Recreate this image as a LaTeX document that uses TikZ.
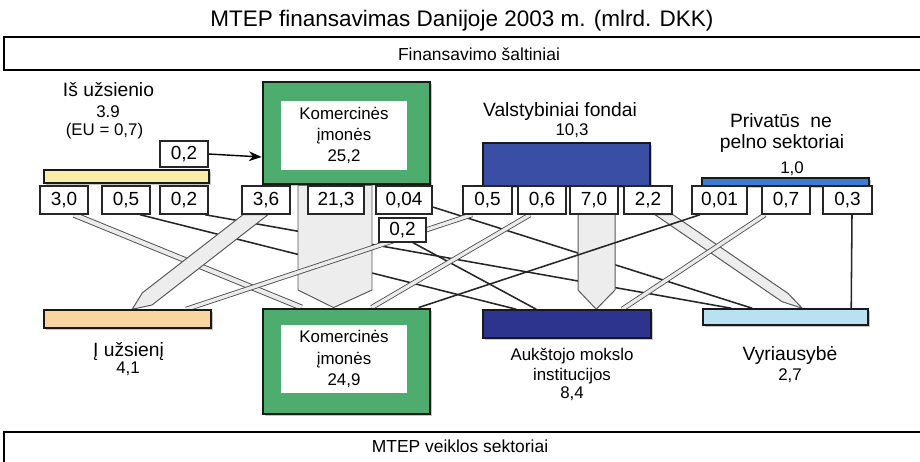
\documentclass[tikz,border=0pt]{standalone}
\usepackage{fontspec}
\setmainfont{Liberation Sans}
\usetikzlibrary{calc,arrows.meta,shadows,backgrounds}

\definecolor{kgreen}{RGB}{78,172,110}
\definecolor{uzyellow}{RGB}{248,238,168}
\definecolor{uzorange}{RGB}{249,213,160}
\definecolor{valblue}{RGB}{58,78,165}
\definecolor{privblue}{RGB}{62,124,208}
\definecolor{amoblue}{RGB}{44,52,142}
\definecolor{vyrblue}{RGB}{186,225,242}

\tikzset{
  numbox/.style={draw=black!85, line width=1pt, fill=white, minimum height=0.7cm, inner sep=0pt,
    font=\fontsize{13.5}{15}\selectfont,
    drop shadow={shadow xshift=0.8pt, shadow yshift=-0.8pt, fill=black!40}},
  secbar/.style={draw=black!90, line width=1.1pt, inner sep=0pt,
    drop shadow={shadow xshift=1.2pt, shadow yshift=-1.2pt, fill=black!45}},
  kombox/.style={draw=black!90, line width=2pt, fill=kgreen, inner sep=0pt, minimum width=4.175cm,
    drop shadow={shadow xshift=1.2pt, shadow yshift=-1.2pt, fill=black!45}},
  inbox/.style={fill=white, inner sep=0pt, minimum width=3.15cm, align=center,
    font=\fontsize{12}{15}\selectfont},
  lbl/.style={font=\fontsize{13.7}{16}\selectfont, anchor=base},
  numtxt/.style={font=\fontsize{12}{14}\selectfont, anchor=base},
  framebox/.style={draw, line width=1.2pt, inner sep=0pt,
    drop shadow={shadow xshift=0pt, shadow yshift=-1pt, fill=black!40}},
  flow/.style={draw=black!85, line width=1.1pt},
  dbl/.style={draw=black!70, line width=0.6pt, double=black!8, double distance=2.4pt},
  band/.style={draw=black!65, line width=0.7pt, fill=black!7, line join=round},
}

\begin{document}
\begin{tikzpicture}[x=0.025cm, y=-0.025cm]
\useasboundingbox (0,0) rectangle (920,461);

% headings
\node[font=\fontsize{16}{18}\selectfont, anchor=base] (title) at (462,26) {MTEP finansavimas Danijoje 2003 m. (mlrd. DKK)};
\node[framebox, fill=white, minimum width=23cm, minimum height=0.825cm] (srcbox) at (464,53.5) {};
\node[font=\fontsize{12.4}{14}\selectfont, anchor=base] (srclbl) at (479,60) {Finansavimo šaltiniai};
\node[framebox, fill=white, minimum width=23cm, minimum height=0.95cm] (secbox) at (464,451) {};
\node[font=\fontsize{12.4}{14}\selectfont, anchor=base] (seclbl) at (460,452) {MTEP veiklos sektoriai};

% sources
\node[lbl] (uzl) at (108.5,96) {Iš užsienio};
\node[numtxt] (uzv) at (108,117) {3.9};
\node[numtxt] (uzeu) at (104.5,135) {(EU = 0,7)};
\node[secbar, fill=uzyellow, minimum width=4.125cm, minimum height=0.325cm] (uzbar) at (126.5,176.5) {};
\node[kombox, minimum height=2.55cm] (kom1) at (346.5,133) {};
\node[inbox, minimum height=1.725cm] (kom1t) at (344,135.5) {Komercinės\\įmonės\\25,2};
\node[lbl] (vall) at (560,116) {Valstybiniai fondai};
\node[numtxt] (valv) at (572,135) {10,3};
\node[secbar, fill=valblue, minimum width=4.175cm, minimum height=1.075cm] (valst) at (566.5,164.5) {};
\node[lbl] (privl1) at (781,127) {Privatūs~ ne};
\node[lbl] (privl2) at (782,148) {pelno sektoriai};
\node[numtxt] (privv) at (792,173) {1,0};
\node[secbar, fill=privblue, minimum width=4.175cm, minimum height=0.2cm] (priv) at (785.5,182) {};

% sectors
\node[secbar, fill=uzorange, minimum width=4.175cm, minimum height=0.45cm] (uzs) at (127.5,319) {};
\node[lbl] (uzsl) at (128.5,356) {Į užsienį};
\node[numtxt] (uzsv) at (128,373) {4,1};
\node[kombox, minimum height=2.625cm] (kom2) at (346.5,361.5) {};
\node[inbox, minimum height=1.7cm] (kom2t) at (344,359) {Komercinės\\įmonės\\24,9};
\node[secbar, fill=amoblue, minimum width=4.2cm, minimum height=0.7cm] (amo) at (567,324) {};
\node[numtxt] (amol1) at (572,360) {Aukštojo mokslo};
\node[numtxt] (amol2) at (572,380) {institucijos};
\node[numtxt] (amov) at (572,398) {8,4};
\node[secbar, fill=vyrblue, minimum width=4.125cm, minimum height=0.4cm] (vyr) at (785.5,317) {};
\node[lbl] (vyrl) at (790,360) {Vyriausybė};
\node[numtxt] (vyrv) at (790,380) {2,7};

% amounts
\foreach \nm/\x/\w/\t in {f30/64/48/{3,0}, f05/126/48/{0,5}, f02/184/48/{0,2},
    k36/266/48/{3,6}, k213/336/56/{21,3}, k004/404/56/{0,04},
    v05/487.5/49/{0,5}, v06/542/48/{0,6}, v70/594/48/{7,0}, v22/648/48/{2,2},
    p001/719.5/55/{0,01}, p07/786/48/{0,7}, p03/847.5/49/{0,3}}
  \node[numbox, minimum width=\w*0.025cm] (\nm) at (\x,200) {\t};
\node[numbox, minimum width=1.2cm, minimum height=0.65cm] (fa02) at (184,154) {0,2};
\node[numbox, minimum width=1.175cm, minimum height=0.6cm] (k02) at (402.5,230) {0,2};

\draw[-{Stealth[length=9pt, width=7pt]}, line width=1pt] (fa02.east) -- ($(kom1.west)+(0,24)$);

% flow ends
\coordinate (e36) at ($(uzs.north west)+(89,0)$);
\coordinate (ev05) at ($(uzs.north west)+(143,0)$);
\coordinate (e30) at ($(kom2.north west)+(40,0)$);
\coordinate (e213) at ($(kom2.north west)+(72,0)$);
\coordinate (ev06) at ($(kom2.north west)+(110,0)$);
\coordinate (ep001) at ($(kom2.north west)+(157,0)$);
\coordinate (e05) at ($(amo.north west)+(34,0)$);
\coordinate (e02) at ($(amo.north west)+(54,0)$);
\coordinate (e70) at ($(amo.north west)+(114,0)$);
\coordinate (ep07) at ($(amo.north west)+(140,0)$);
\coordinate (ef02) at ($(vyr.north west)+(29,0)$);
\coordinate (e004) at ($(vyr.north west)+(50,0)$);
\coordinate (e22) at ($(vyr.north west)+(100,0)$);
\coordinate (ep03) at ($(vyr.north west)+(149,0)$);

\begin{pgfonlayer}{background}
\draw[dbl, line width=0.65pt, double distance=3pt] ($(f30.south)+(10,0)$) -- (e30);
\draw[flow] ($(f05.south)+(14,0)$) -- (e05);
\draw[flow] ($(f02.south)+(21,0)$) -- (ef02);
\draw[band] ($(k36.south)+(-23,0)$) -- (142.4,292.8) -- (e36) -- (152,305) -- ($(k36.south)+(2,0)$) -- cycle;
\draw[band] ($(kom1.south)+(-48.5,0)$) -- ($(kom1.south)+(25.5,0)$) -- (372,290) -- (e213) -- (298,290) -- cycle;
\draw[flow] ($(k004.east)+(0,7)$) -- (e004);
\draw[flow] ($(k02.south)+(10.5,0)$) -- (e02);
\draw[dbl] ($(v05.south)+(-15.5,0)$) -- (ev05);
\draw[dbl] ($(v06.south)+(-12,0)$) -- (ev06);
\draw[band] ($(valst.south)+(11.5,0)$) -- ($(valst.south)+(48.5,0)$) -- (615,290) -- (e70) -- (578,290) -- cycle;
\draw[band] ($(v22.south)+(7,0)$) -- (782.1,301.7) -- (e22) -- (787.9,293.3) -- ($(v22.south)+(25,0)$) -- cycle;
\draw[flow] ($(p001.south)+(-19.5,0)$) -- (ep001);
\draw[dbl] ($(p07.south)+(-21,0)$) -- (ep07);
\draw[flow] ($(p03.south)+(4.5,0)$) -- (ep03);
\end{pgfonlayer}
\end{tikzpicture}
\end{document}
